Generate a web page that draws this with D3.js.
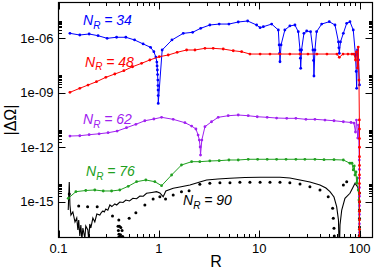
<!DOCTYPE html>
<html><head><meta charset="utf-8">
<script src="https://cdn.jsdelivr.net/npm/d3@7"></script>
<style>body{margin:0;background:#fff}svg{display:block}text{font-family:"Liberation Sans",Arial,Helvetica,sans-serif}</style>
</head><body><svg id="c" width="374" height="271"></svg>
<script>
// ---------- data ----------
const xTicks = [0.1, 1, 10, 100];
const xTickLabels = ["0.1", "1", "10", "100"];
const yTicks = [1e-6, 1e-9, 1e-12, 1e-15];
const yTickLabels = ["1e-06", "1e-09", "1e-12", "1e-15"];

const r34 = [0.130,0.163,0.202,0.248,0.305,0.379,0.469,0.573,0.697,0.826,0.892,0.933,0.955,0.960,0.966,0.971,0.977,0.980,0.982,0.984,0.986,1.079,1.35,1.75,2.17,2.61,3.22,3.99,4.99,6.18,7.67,9.42,10.2,11.0,13.3,15.5,15.8,16.0,16.1,16.5,18.0,20.2,22.7,24.5,25.5,25.7,25.9,26.4,27.9,29.7,32.5,34.3,34.8,35.1,35.9,37.3,41.9,49.9,56.9,61.6,62.2,62.8,64.5,68.9,74.4,80.2,86.5,91.0,92.5,93.5,95.3,97.5,99.8];
const v34 = [1.88e-6,1.52e-6,1.73e-6,1.39e-6,1.0e-6,1.14e-6,1.14e-6,8.1e-7,4.9e-7,3.2e-7,1.83e-7,9.3e-8,4.9e-8,3e-8,1.8e-8,1e-8,5.0e-9,2.5e-9,1.4e-9,7e-10,2.6e-10,2.27e-7,8.1e-7,1.88e-6,2.14e-6,3.56e-6,5.4e-6,6.1e-6,6.1e-6,7.9e-6,9.0e-6,5.4e-6,3.84e-6,4.36e-6,6.1e-6,2.87e-6,4.3e-7,1.5e-7,5.1e-8,4.3e-7,2.87e-6,4.8e-6,5.4e-6,2.31e-6,2.27e-7,8e-8,2.22e-8,2.27e-7,1.88e-6,2.52e-6,2.31e-6,2.27e-7,6e-8,8.4e-9,2.27e-7,2.31e-6,6.1e-6,8.2e-6,5.4e-6,6.3e-7,3e-7,1.49e-7,6.3e-7,1.88e-6,6.7e-6,8.2e-6,2.87e-6,1.20e-7,1.5e-8,1.76e-9,2.27e-7,6.4e-8,2.7e-9];

const r48 = [0.130,0.163,0.197,0.239,0.296,0.364,0.448,0.547,0.673,0.813,1.01,1.24,1.52,1.89,2.29,2.88,3.48,4.38,5.51,6.68,8.08,10.2,12.8,16.1,20.2,25.5,30.6,37.6,47.3,59.5,62.8,68.4,76.6,84.0,87.9,91.0,93.1,95.3,97.0,98.6,99.5,99.8,99.8,99.8,99.8,99.8,99.8,99.8,99.8,99.8,99.8,99.8,99.8,99.8,99.8,99.8];
const v48 = [1.06e-9,1.76e-9,2.67e-9,4.06e-9,7.1e-9,1.08e-8,1.64e-8,2.72e-8,4.2e-8,6.4e-8,9.7e-8,1.2e-7,1.69e-7,2.27e-7,2.27e-7,2.81e-7,2.81e-7,2.57e-7,2.07e-7,1.83e-7,1.36e-7,1.36e-7,1.36e-7,1.36e-7,1.36e-7,1.36e-7,1.36e-7,1.36e-7,1.36e-7,1.36e-7,8.97e-8,1.36e-7,1.36e-7,1.36e-7,1.36e-7,6.4e-8,1.76e-7,2.3e-8,3.3e-7,5.0e-9,3.2e-11,1e-11,3e-12,1e-12,3e-13,1e-13,3e-14,1e-14,3e-15,1e-15,3e-16,1e-16,3e-17,1.2e-17,5e-18,1e-18];

const r62 = [0.130,0.163,0.202,0.254,0.312,0.384,0.476,0.590,0.725,0.892,1.064,1.39,1.82,2.12,2.34,2.46,2.53,2.58,2.60,2.68,2.88,3.35,3.90,4.91,6.18,7.77,9.55,12.0,14.9,18.8,23.2,29.2,35.9,45.2,55.6,68.9,82.1,87.9,91.0,93.1,95.9,97.5,99.3,99.7,99.7,99.7,99.7,99.7,99.7,99.7,99.7,99.7];
const v62 = [4.14e-12,4.3e-12,4.9e-12,5.5e-12,6.3e-12,7.8e-12,1.19e-11,1.83e-11,2.88e-11,3.58e-11,4.44e-11,3.44e-11,2.24e-11,1.47e-11,1.01e-11,4.7e-12,2.49e-12,1.03e-12,3.7e-13,2.49e-12,1.35e-11,2.54e-11,4.44e-11,5.44e-11,5.95e-11,5.44e-11,4.79e-11,4.44e-11,4.06e-11,3.91e-11,3.91e-11,3.44e-11,3.44e-11,3.15e-11,2.88e-11,2.54e-11,2.30e-11,2.15e-11,6.9e-12,3.15e-11,3.2e-12,1.67e-11,1.97e-13,6e-14,2e-14,6e-15,2e-15,6e-16,2e-16,6e-17,2e-17,1e-18];

const r76 = [0.125,0.149,0.187,0.230,0.279,0.338,0.408,0.495,0.600,0.742,0.912,1.064,1.34,1.68,2.12,2.56,3.22,3.99,4.99,6.18,7.77,9.64,12.0,14.9,18.5,23.2,28.5,35.9,44.2,55.6,68.9,80.2,84.0,86.5,88.5,90.0,92.1,93.5,95.3,97.0,98.6,99.6,99.6,99.6,99.6];
const v76 = [1.54e-15,3.56e-15,4.14e-15,4.41e-15,3.89e-15,3.89e-15,4.41e-15,7.05e-15,1.26e-14,1.57e-14,1.26e-14,7.6e-15,2.96e-14,1.05e-13,1.6e-13,1.6e-13,1.75e-13,1.82e-13,1.98e-13,1.98e-13,2.17e-13,2.17e-13,2.17e-13,2.17e-13,2.17e-13,2.17e-13,2.17e-13,2.17e-13,2.06e-13,2.06e-13,1.98e-13,1.31e-13,1.31e-13,5.6e-14,9.3e-14,2.96e-14,4.33e-14,1.07e-14,2.02e-14,4.41e-15,1.24e-15,3e-16,1e-16,3e-17,1e-18];

const r90 = [0.125,0.128,0.130,0.133,0.139,0.146,0.152,0.156,0.159,0.163,0.167,0.171,0.175,0.183,0.187,0.196,0.200,0.205,0.210,0.220,0.230,0.241,0.258,0.268,0.277,0.286,0.296,0.310,0.325,0.340,0.364,0.380,0.408,0.440,0.469,0.510,0.551,0.600,0.647,0.700,0.754,0.851,0.948,1.023,1.104,1.174,1.39,1.62,2.04,2.56,2.99,3.88,5.11,7.20,10.2,16.1,20.2,25.5,32.0,40.3,46.2,50.7,55.6,59.1,61.6,62.8,63.8,66.4,71.5,80.2,86.5,90.0,94.2,97.0,99.1,100];
const v90 = [3.49e-16,1.22e-14,6.6e-16,1.85e-16,2.71e-16,7.6e-17,1.26e-16,2.76e-17,9.8e-17,1.29e-17,5.2e-17,8e-18,3.56e-17,1.0e-17,4.58e-17,2.76e-17,8e-18,5.9e-17,3.56e-17,1.26e-16,7.6e-17,2.10e-16,1.85e-16,2.6e-16,3.07e-16,2.7e-16,3.96e-16,3.4e-16,6.6e-16,5.4e-16,7.5e-16,6.6e-16,9.6e-16,9.0e-16,1.24e-15,1.1e-15,1.54e-15,1.45e-15,2.06e-15,2.0e-15,2.90e-15,3.21e-15,3.56e-15,3.02e-15,1.88e-15,3.89e-15,5.5e-15,6.5e-15,8.3e-15,1.22e-14,1.57e-14,1.78e-14,1.95e-14,2.15e-14,2.21e-14,2.21e-14,2.02e-14,1.57e-14,1.22e-14,8.3e-15,5.7e-15,3.56e-15,1.81e-15,5.3e-16,9.8e-17,1e-18,5.2e-17,3.49e-16,1.54e-15,2.90e-15,6.7e-15,1.03e-14,7.3e-15,5.5e-15,1.24e-15,1e-18];

const rDots = [0.128,0.159,0.195,0.243,0.345,0.399,0.392,0.405,0.418,0.395,0.430,0.400,0.415,0.398,0.421,0.436,0.506,0.590,0.725,0.877,1.023,1.166,1.39,1.68,2.00,2.56,3.22,4.06,5.11,6.42,8.08,10.2,12.8,16.1,20.2,25.5,32.0,40.3,48.7,53.9,54.7,55.6,56.0,68.9,74.4,99.8,99.8,99.8,99.8,99.8,99.8];
const vDots = [2.66e-15,5.8e-16,5.3e-16,5.3e-16,1.63e-16,9.8e-17,4.5e-17,4.5e-17,3.8e-17,2.6e-17,2.6e-17,1.6e-17,1.5e-17,1.1e-17,1.1e-17,1.2e-17,1.22e-16,2.48e-16,6.6e-16,1.41e-15,1.88e-15,1.41e-15,2.34e-15,3.56e-15,4.04e-15,9.1e-15,1.03e-14,1.11e-14,1.11e-14,1.17e-14,1.17e-14,1.17e-14,1.17e-14,1.17e-14,1.11e-14,9.4e-15,6.7e-15,4.41e-15,1.88e-15,4.33e-16,1.22e-16,3.42e-17,1.29e-17,8.3e-15,1.26e-14,3e-15,1e-15,3.5e-16,1.2e-16,4e-17,1.4e-17];

const seriesLabels = ["34", "48", "62", "76", "90"];

// ---------- drawing ----------
const svg = d3.select("#c");
const L = 58.5, R = 372.5, T = 2.5, B = 237.5;
const x = d3.scaleLog().domain([0.1, 134.5]).range([58.5, 372.5]);
const y = d3.scaleLog().domain([1e-17, 1e-4]).range([238, 2]);

svg.append("defs").append("clipPath").attr("id", "clip")
  .append("rect").attr("x", L).attr("y", T).attr("width", R - L).attr("height", B - T);

const plot = svg.append("g").attr("clip-path", "url(#clip)");
const line = d3.line().x(d => x(d[0])).y(d => y(Math.max(d[1], 1e-19)));
const zip = (a, b) => a.map((v, i) => [v, b[i]]);

const blue = "#0000ff", red = "#ff0000", purple = "#a020f0", green = "#20a020";

// black dotted series (markers only)
plot.append("g").selectAll("circle").data(zip(rDots, vDots)).join("circle")
  .attr("cx", d => x(d[0])).attr("cy", d => y(d[1])).attr("r", 1.5).attr("fill", "#000");

// black solid line
plot.append("path").datum(zip(r90, v90)).attr("d", line)
  .attr("fill", "none").attr("stroke", "#000").attr("stroke-width", 1.1);

function series(r, v, col) {
  const data = zip(r, v);
  plot.append("path").datum(data).attr("d", line)
    .attr("fill", "none").attr("stroke", col).attr("stroke-width", 1);
  plot.append("g").selectAll("circle").data(data).join("circle")
    .attr("cx", d => x(d[0])).attr("cy", d => y(d[1])).attr("r", 1.4).attr("fill", col);
}
series(r76, v76, green);
series(r62, v62, purple);
series(r34, v34, blue);
series(r48, v48, red);

// frame
svg.append("rect").attr("x", L).attr("y", T).attr("width", R - L).attr("height", B - T)
  .attr("fill", "none").attr("stroke", "#000").attr("stroke-width", 1.2);

// x ticks
const xMinor = [];
[0.1, 1, 10, 100].forEach(d => { for (let k = 2; k <= 9; k++) { const v = d * k; if (v <= 134.5) xMinor.push(v); } });
const tg = svg.append("g").attr("stroke", "#000").attr("stroke-width", 1);
xTicks.forEach(v => {
  const px = Math.round(x(v)) + 0.5;
  tg.append("line").attr("x1", px).attr("x2", px).attr("y1", B).attr("y2", B - 7);
  tg.append("line").attr("x1", px).attr("x2", px).attr("y1", T).attr("y2", T + 7);
});
xMinor.forEach(v => {
  const px = Math.round(x(v)) + 0.5;
  tg.append("line").attr("x1", px).attr("x2", px).attr("y1", B).attr("y2", B - 3.5);
  tg.append("line").attr("x1", px).attr("x2", px).attr("y1", T).attr("y2", T + 3.5);
});
// y ticks
const yMinor = [];
yTicks.forEach(d => { for (let k = 2; k <= 9; k++) yMinor.push(d * k); });
yTicks.forEach(v => {
  const py = Math.round(y(v)) + 0.5;
  tg.append("line").attr("x1", L).attr("x2", L + 7).attr("y1", py).attr("y2", py);
  tg.append("line").attr("x1", R).attr("x2", R - 7).attr("y1", py).attr("y2", py);
});
yMinor.forEach(v => {
  const py = Math.round(y(v)) + 0.5;
  tg.append("line").attr("x1", L).attr("x2", L + 3.5).attr("y1", py).attr("y2", py);
  tg.append("line").attr("x1", R).attr("x2", R - 3.5).attr("y1", py).attr("y2", py);
});

// tick labels
xTicks.forEach((v, i) => {
  svg.append("text").attr("x", x(v)).attr("y", 253).attr("text-anchor", "middle")
    .attr("font-size", 13).text(xTickLabels[i]);
});
yTicks.forEach((v, i) => {
  svg.append("text").attr("x", 53.5).attr("y", y(v) + 4.6).attr("text-anchor", "end")
    .attr("font-size", 13).text(yTickLabels[i]);
});

// axis titles
svg.append("text").attr("x", 216).attr("y", 267).attr("text-anchor", "middle")
  .attr("font-size", 16).text("R");
svg.append("text").attr("transform", "translate(16,120) rotate(-90)").attr("text-anchor", "middle")
  .attr("font-size", 16).text("|ΔΩ|");

// series labels
const labelPos = [[83, 25, blue], [85, 66.5, red], [83, 124, purple], [86, 176, green], [183, 205, "#000"]];
seriesLabels.forEach((s, i) => {
  const [lx, ly, col] = labelPos[i];
  const t = svg.append("text").attr("x", lx).attr("y", ly).attr("fill", col)
    .attr("font-size", 14).attr("font-style", "italic");
  t.append("tspan").text("N");
  t.append("tspan").attr("font-size", 10).attr("dy", 3.5).text("R");
  t.append("tspan").attr("dy", -3.5).text(" = " + s);
});
</script></body></html>
